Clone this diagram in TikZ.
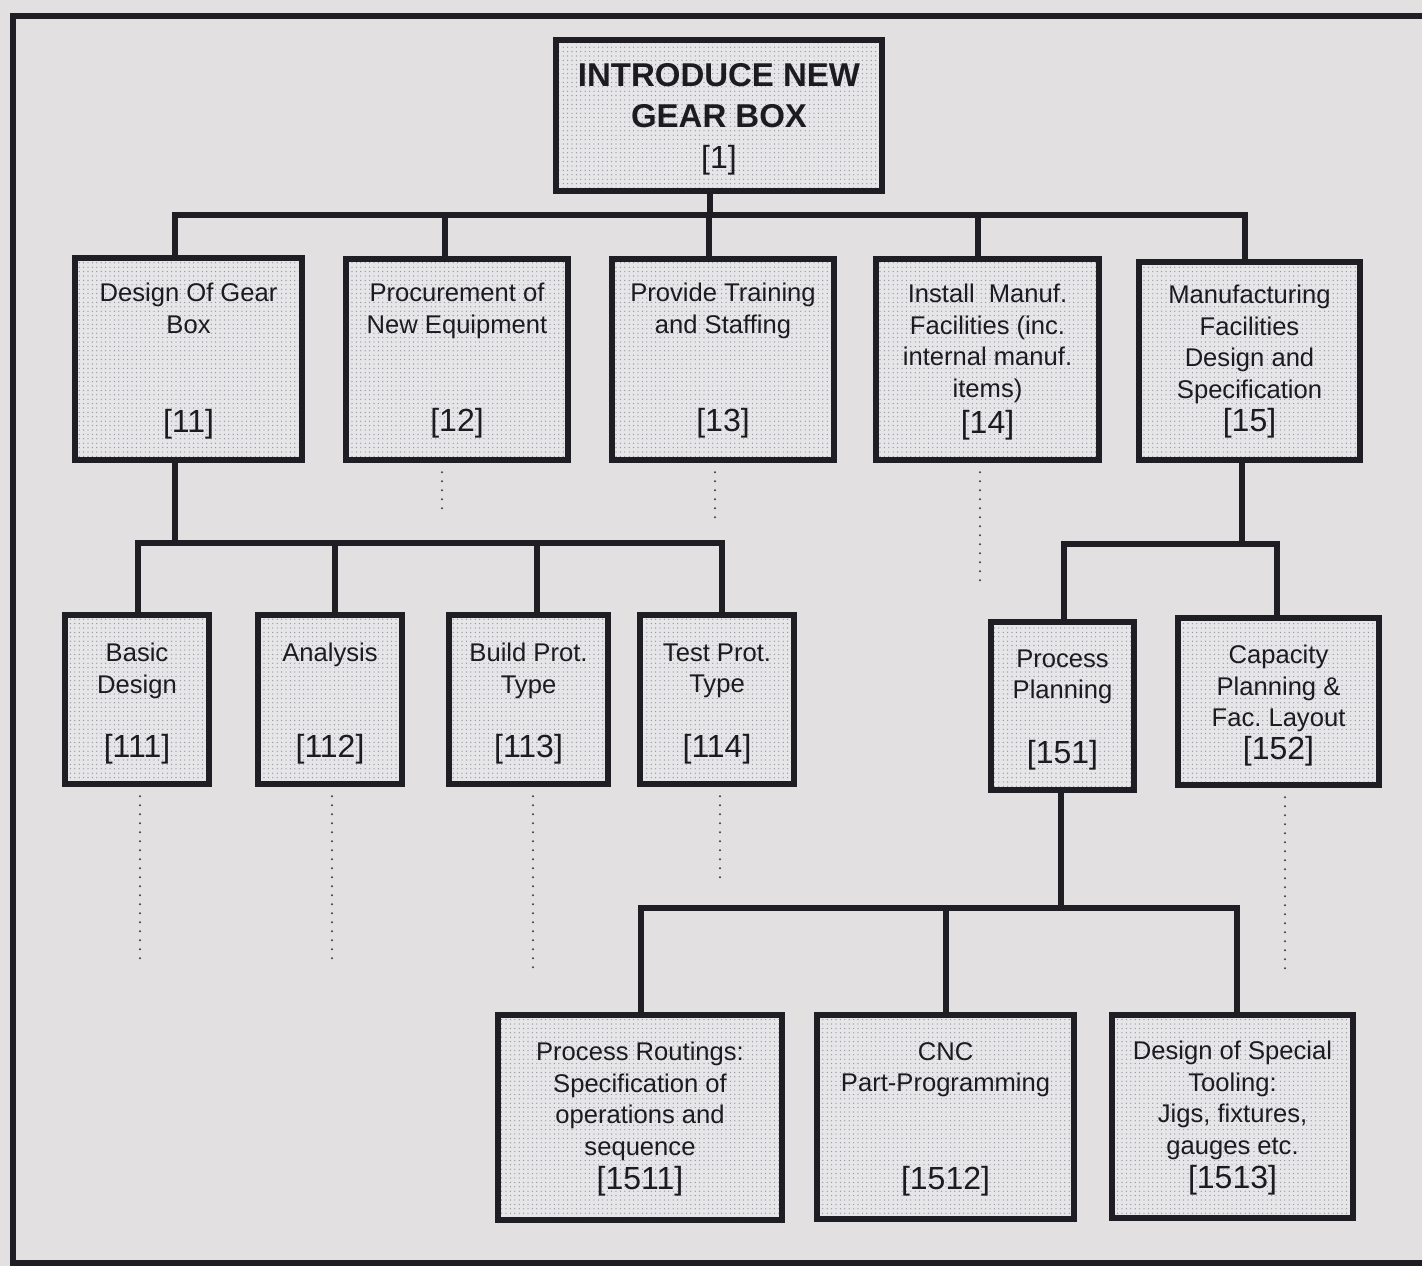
\documentclass[tikz,border=0pt]{standalone}
\usepackage{fontspec}
\setmainfont{Liberation Sans}
\usetikzlibrary{calc,patterns.meta}
\definecolor{paper}{RGB}{226,224,225}
\definecolor{boxfill}{RGB}{230,230,232}
\definecolor{dotc}{RGB}{145,145,152}
\definecolor{ink}{RGB}{30,30,36}
\definecolor{txtc}{RGB}{28,28,32}
\frenchspacing

\begin{document}
\begin{tikzpicture}[x=0.5pt,y=-0.5pt,
  wbs/.style={draw=ink, line width=3.2pt, preaction={fill=boxfill},
    pattern={Dots[distance=2.2pt,radius=0.33pt]}, pattern color=dotc,
    inner sep=0pt, rectangle},
  conn/.style={draw=ink, line width=2.6pt},
  dotline/.style={draw=ink!85, line width=1.1pt, line cap=round, dash pattern=on 0pt off 4.5pt},
  txt/.style={font=\fontsize{12.8}{15.7}\selectfont, align=center, inner sep=0pt, text=txtc, anchor=north},
  ttl/.style={font=\bfseries\fontsize{16.5}{20.5}\selectfont, align=center, inner sep=0pt, text=txtc, anchor=north},
  lbl/.style={font=\fontsize{16}{19}\selectfont, inner sep=0pt, text=txtc}
]
\clip (0,0) rectangle (1422,1266);
\useasboundingbox (0,0) rectangle (1422,1266);
\fill[paper] (0,0) rectangle (1422,1266);
% outer frame (runs off the right edge)
\draw[ink, line width=2.7pt] (13,16) rectangle (1460,1263);

% ---------- boxes ----------
\node[wbs, minimum width=163pt, minimum height=75.5pt] (b1) at (719,115.5) {};

\node[wbs, minimum width=113.5pt, minimum height=101pt] (b11) at (188.5,359) {};
\node[wbs, minimum width=111pt, minimum height=100.5pt] (b12) at (457,359.5) {};
\node[wbs, minimum width=111pt, minimum height=100.5pt] (b13) at (723,359.5) {};
\node[wbs, minimum width=111.5pt, minimum height=100.5pt] (b14) at (987.5,359.5) {};
\node[wbs, minimum width=110.5pt, minimum height=99pt] (b15) at (1249.5,361) {};

\node[wbs, minimum width=72pt, minimum height=84.5pt] (b111) at (137,699.5) {};
\node[wbs, minimum width=72pt, minimum height=84.5pt] (b112) at (330,699.5) {};
\node[wbs, minimum width=79.5pt, minimum height=84.5pt] (b113) at (528.5,699.5) {};
\node[wbs, minimum width=77pt, minimum height=84.5pt] (b114) at (717,699.5) {};

\node[wbs, minimum width=71.5pt, minimum height=84pt] (b151) at (1062.5,706) {};
\node[wbs, minimum width=100.5pt, minimum height=83.5pt] (b152) at (1278.5,701.5) {};

\node[wbs, minimum width=142pt, minimum height=102.5pt] (b1511) at (640,1117.5) {};
\node[wbs, minimum width=128.5pt, minimum height=102pt] (b1512) at (945.5,1117) {};
\node[wbs, minimum width=120.5pt, minimum height=101.5pt] (b1513) at (1232.5,1116.5) {};

% ---------- texts ----------
\node[ttl] (t1) at (719,63) {INTRODUCE NEW\\GEAR BOX};
\node[lbl] (l1) at (719,160) {[1]};

\node[txt] (t11) at (188.5,283) {Design Of Gear\\Box};
\node[lbl] (l11) at (188.5,424) {[11]};
\node[txt] (t12) at (457,283) {Procurement of\\New Equipment};
\node[lbl] (l12) at (457,423) {[12]};
\node[txt] (t13) at (723,283) {Provide Training\\and Staffing};
\node[lbl] (l13) at (723,423) {[13]};
\node[txt] (t14) at (987.5,284) {Install\ \ Manuf.\\Facilities (inc.\\internal manuf.\\items)};
\node[lbl] (l14) at (987.5,425) {[14]};
\node[txt] (t15) at (1249.5,285) {Manufacturing\\Facilities\\Design and\\Specification};
\node[lbl] (l15) at (1249.5,423) {[15]};

\node[txt] (t111) at (137,643) {Basic\\Design};
\node[lbl] (l111) at (137,749) {[111]};
\node[txt] (t112) at (330,643) {Analysis};
\node[lbl] (l112) at (330,749) {[112]};
\node[txt] (t113) at (528.5,643) {Build Prot.\\Type};
\node[lbl] (l113) at (528.5,749) {[113]};
\node[txt] (t114) at (717,643) {Test Prot.\\Type};
\node[lbl] (l114) at (717,749) {[114]};

\node[txt] (t151) at (1062.5,649) {Process\\Planning};
\node[lbl] (l151) at (1062.5,755) {[151]};
\node[txt] (t152) at (1278.5,645) {Capacity\\Planning \&\\Fac. Layout};
\node[lbl] (l152) at (1278.5,751) {[152]};

\node[txt] (t1511) at (640,1042) {Process Routings:\\Specification of\\operations and\\sequence};
\node[lbl] (l1511) at (640,1181) {[1511]};
\node[txt] (t1512) at (945.5,1042) {CNC\\Part-Programming};
\node[lbl] (l1512) at (945.5,1181) {[1512]};
\node[txt] (t1513) at (1232.5,1041) {Design of Special\\Tooling:\\Jigs, fixtures,\\gauges etc.};
\node[lbl] (l1513) at (1232.5,1180) {[1513]};

% ---------- connector points ----------
\coordinate (bus1) at (0,215);
\coordinate (bus11) at (0,543);
\coordinate (bus15) at (0,544);
\coordinate (bus151) at (0,908);

\coordinate (s1) at ($(b1.south)+(-9,0)$);
\coordinate (n11) at ($(b11.north)+(-13.5,0)$);
\coordinate (n12) at ($(b12.north)+(-12,0)$);
\coordinate (n13) at ($(b13.north)+(-14,0)$);
\coordinate (n14) at ($(b14.north)+(-9.5,0)$);
\coordinate (n15) at ($(b15.north)+(-4.5,0)$);

\coordinate (s11) at ($(b11.south)+(-13.5,0)$);
\coordinate (n111) at ($(b111.north)+(1,0)$);
\coordinate (n112) at ($(b112.north)+(5,0)$);
\coordinate (n113) at ($(b113.north)+(8.5,0)$);
\coordinate (n114) at ($(b114.north)+(5,0)$);

\coordinate (s15) at ($(b15.south)+(-7.5,0)$);
\coordinate (n151) at ($(b151.north)+(1.5,0)$);
\coordinate (n152) at ($(b152.north)+(-1.5,0)$);

\coordinate (s151) at ($(b151.south)+(-1.5,0)$);
\coordinate (n1511) at ($(b1511.north)+(1,0)$);
\coordinate (n1512) at ($(b1512.north)+(0.5,0)$);
\coordinate (n1513) at ($(b1513.north)+(4.5,0)$);

% ---------- connectors ----------
\draw[conn] (s1) -- (s1 |- bus1);
\draw[conn] (n11) -- (n11 |- bus1) -- (n15 |- bus1) -- (n15);
\draw[conn] (n12) -- (n12 |- bus1);
\draw[conn] (n13) -- (n13 |- bus1);
\draw[conn] (n14) -- (n14 |- bus1);

\draw[conn] (s11) -- (s11 |- bus11);
\draw[conn] (n111) -- (n111 |- bus11) -- (n114 |- bus11) -- (n114);
\draw[conn] (n112) -- (n112 |- bus11);
\draw[conn] (n113) -- (n113 |- bus11);

\draw[conn] (s15) -- (s15 |- bus15);
\draw[conn] (n151) -- (n151 |- bus15) -- (n152 |- bus15) -- (n152);

\draw[conn] (s151) -- (s151 |- bus151);
\draw[conn] (n1511) -- (n1511 |- bus151) -- (n1513 |- bus151) -- (n1513);
\draw[conn] (n1512) -- (n1512 |- bus151);

% ---------- dotted continuations ----------
\coordinate (e12) at (442,515);
\coordinate (e13) at (715,522);
\coordinate (e14) at (980,582);
\coordinate (e111) at (140,965);
\coordinate (e112) at (332,965);
\coordinate (e113) at (533,968);
\coordinate (e114) at (720,885);
\coordinate (e152) at (1285,972);

\draw[dotline] (e12 |- b12.south) ++(0,9) -- (e12);
\draw[dotline] (e13 |- b13.south) ++(0,9) -- (e13);
\draw[dotline] (e14 |- b14.south) ++(0,9) -- (e14);
\draw[dotline] (e111 |- b111.south) ++(0,9) -- (e111);
\draw[dotline] (e112 |- b112.south) ++(0,9) -- (e112);
\draw[dotline] (e113 |- b113.south) ++(0,9) -- (e113);
\draw[dotline] (e114 |- b114.south) ++(0,9) -- (e114);
\draw[dotline] (e152 |- b152.south) ++(0,9) -- (e152);
\end{tikzpicture}
\end{document}
